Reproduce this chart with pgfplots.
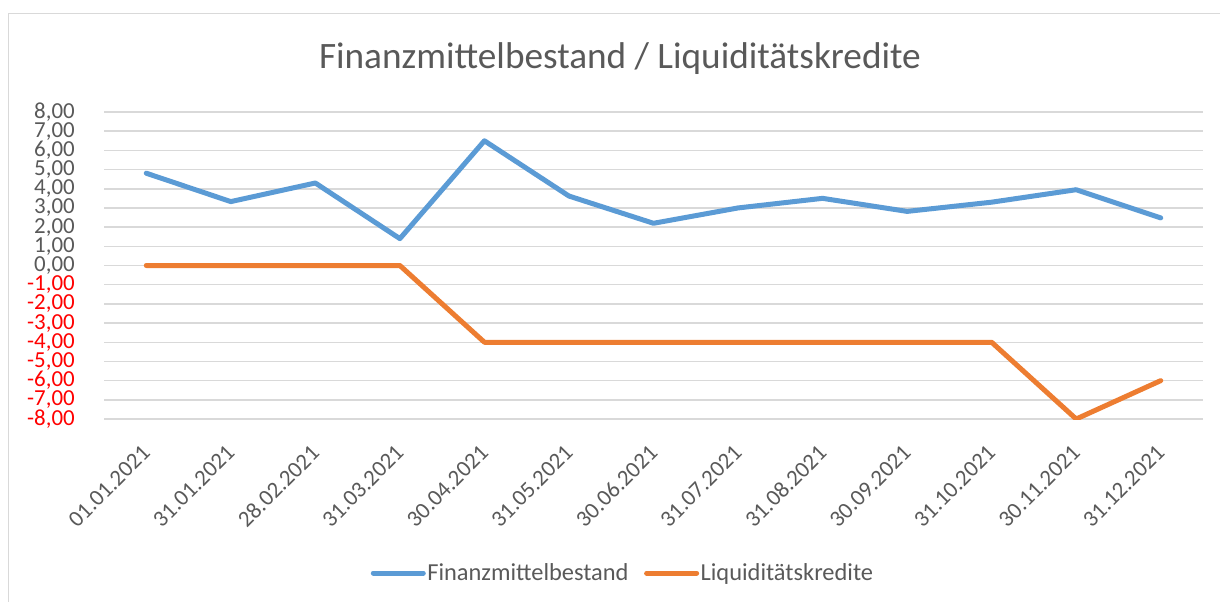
\documentclass[border=0pt]{standalone}
\usepackage{fontspec}
\setmainfont{Carlito}
\usepackage{pgfplots}
\pgfplotsset{compat=1.18}
\definecolor{txt}{HTML}{595959}
\definecolor{gridc}{HTML}{D9D9D9}
\definecolor{blueA}{HTML}{5B9BD5}
\definecolor{orangeA}{HTML}{ED7D31}
\definecolor{redA}{HTML}{FF0000}
\begin{document}
\begin{tikzpicture}
\path[use as bounding box] (0bp,0bp) rectangle (1220bp,-602bp);
\draw[gridc, line width=1.5bp] (8.5bp,-602bp) -- (8.5bp,-13.5bp) -- (1220bp,-13.5bp);
\node[anchor=base, text=txt, font=\fontsize{37.4}{40}\selectfont, inner sep=0pt] at (620bp,-68bp) {Finanzmittelbestand / Liquiditätskredite};
\begin{axis}[
  at={(104bp,-419bp)}, anchor=south west,
  scale only axis, width=1099bp, height=307bp,
  xmin=-0.5, xmax=12.5, ymin=-8, ymax=8,
  axis line style={draw=none},
  major tick length=0pt,
  tick style={draw=none},
  ymajorgrids,
  grid style={gridc, line width=1.5bp},
  ytick={-8,-7,...,8},
  yticklabels={{\textcolor{redA}{-8,00}},{\textcolor{redA}{-7,00}},{\textcolor{redA}{-6,00}},{\textcolor{redA}{-5,00}},{\textcolor{redA}{-4,00}},{\textcolor{redA}{-3,00}},{\textcolor{redA}{-2,00}},{\textcolor{redA}{-1,00}},{0,00},{1,00},{2,00},{3,00},{4,00},{5,00},{6,00},{7,00},{8,00}},
  xtick={0,...,12},
  xticklabels={01.01.2021,31.01.2021,28.02.2021,31.03.2021,30.04.2021,31.05.2021,30.06.2021,31.07.2021,31.08.2021,30.09.2021,31.10.2021,30.11.2021,31.12.2021},
  tick label style={font=\fontsize{23}{25}\selectfont, text=txt},
  yticklabel style={anchor=east, inner sep=0pt, xshift=-29bp},
  xticklabel style={yshift=-30bp, rotate=45, anchor=east, inner sep=0pt},
  legend columns=2,
  legend cell align=left,
  legend image code/.code={\draw[#1, line cap=round] (0bp,0bp) -- (50bp,0bp);},
  legend style={at={(0.472,-0.5016)}, anchor=center, draw=none, fill=none,
    font=\fontsize{24.5}{26}\selectfont, text=txt,
    nodes={inner sep=1.5bp},
    /tikz/every even column/.append style={column sep=14bp}},
]
\addplot[blueA, line width=5bp, line cap=round, line join=round] coordinates {
(0,4.81) (1,3.33) (2,4.3) (3,1.4) (4,6.5) (5,3.62) (6,2.2) (7,3.0) (8,3.5) (9,2.82) (10,3.3) (11,3.95) (12,2.48)};
\addlegendentry{Finanzmittelbestand}
\addplot[orangeA, line width=5bp, line cap=round, line join=round] coordinates {
(0,0) (1,0) (2,0) (3,0) (4,-4) (5,-4) (6,-4) (7,-4) (8,-4) (9,-4) (10,-4) (11,-8) (12,-6)};
\addlegendentry{Liquiditätskredite}
\end{axis}
\end{tikzpicture}
\end{document}
